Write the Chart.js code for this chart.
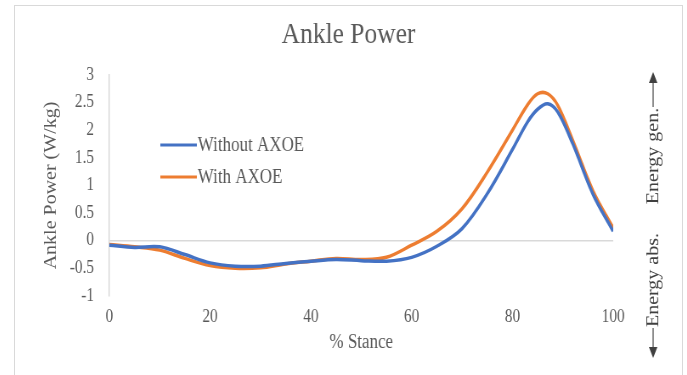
<!DOCTYPE html>
<html>
<head>
<meta charset="utf-8">
<script src="https://cdn.jsdelivr.net/npm/chart.js@4.4.0/dist/chart.umd.min.js"></script>
<style>
  html, body { margin: 0; padding: 0; background: #fff; }
  body { width: 687px; height: 375px; overflow: hidden; position: relative; }
  #frame {
    position: absolute; left: 14px; top: 5px; width: 667px; height: 380px;
    border: 1px solid #d9d9d9; overflow: hidden; background: #fff;
  }
  #squeeze { position: absolute; left: 0; top: 0; transform: scaleX(0.8497); transform-origin: 0 0; }
  canvas { display: block; }
</style>
</head>
<body>
<div id="frame"><div id="squeeze"><canvas id="c" width="785" height="369"></canvas></div></div>
<script>
// % of stance phase
const stance = [0, 5, 10, 15, 20, 25, 30, 35, 40, 45, 50, 55, 60, 65, 70, 75, 80, 83, 85, 87, 89, 92, 96, 100];
// Ankle power, W/kg
const withoutAxoe = [-0.08, -0.12, -0.11, -0.25, -0.40, -0.46, -0.46, -0.41, -0.37, -0.34, -0.36, -0.37, -0.30, -0.10, 0.22, 0.85, 1.65, 2.15, 2.38, 2.48, 2.33, 1.75, 0.84, 0.17];
const withAxoe    = [-0.07, -0.11, -0.17, -0.32, -0.45, -0.50, -0.49, -0.42, -0.37, -0.32, -0.34, -0.30, -0.08, 0.17, 0.58, 1.24, 2.00, 2.46, 2.66, 2.66, 2.45, 1.81, 0.90, 0.23];
const seriesNames = ['Without AXOE', 'With AXOE'];
const seriesColors = ['#4472C4', '#ED7D31'];
const xTicks = [0, 20, 40, 60, 80, 100];
const yTicks = [-1, -0.5, 0, 0.5, 1, 1.5, 2, 2.5, 3];

const SERIF = '"Liberation Serif", "Times New Roman", serif';
const GREY = '#595959';

const toPoints = vals => stance.map((x, i) => ({ x: x, y: vals[i] }));

// legend drawn inside the plot, upper left
const legendInside = {
  id: 'legendInside',
  afterDatasetsDraw(chart) {
    const ctx = chart.ctx;
    ctx.save();
    ctx.font = '20px ' + SERIF;
    ctx.textBaseline = 'middle';
    ctx.textAlign = 'left';
    chart.data.datasets.forEach((ds, i) => {
      const y = 139 + i * 32;
      ctx.strokeStyle = ds.borderColor;
      ctx.lineWidth = 3;
      ctx.beginPath();
      ctx.moveTo(171, y);
      ctx.lineTo(214, y);
      ctx.stroke();
      ctx.fillStyle = GREY;
      ctx.fillText(ds.label, 215, y + 1);
    });
    ctx.restore();
  }
};

// energy generation / absorption labels on the right
const energyLabels = {
  id: 'energyLabels',
  afterDraw(chart) {
    const ctx = chart.ctx;
    const x = 751;
    ctx.save();
    ctx.fillStyle = '#404040';
    ctx.strokeStyle = '#404040';
    ctx.lineWidth = 1.2;
    ctx.font = '20px ' + SERIF;
    ctx.textAlign = 'center';
    ctx.textBaseline = 'middle';
    const vtext = (t, yc) => {
      ctx.save();
      ctx.translate(x + 1, yc);
      ctx.rotate(-Math.PI / 2);
      ctx.fillText(t, 0, 0);
      ctx.restore();
    };
    vtext('Energy gen.', 150);
    vtext('Energy abs.', 274);
    // up arrow
    ctx.beginPath(); ctx.moveTo(x, 101); ctx.lineTo(x, 74); ctx.stroke();
    ctx.beginPath(); ctx.moveTo(x, 66); ctx.lineTo(x - 5, 77); ctx.lineTo(x + 5, 77); ctx.closePath(); ctx.fill();
    // down arrow
    ctx.beginPath(); ctx.moveTo(x, 322); ctx.lineTo(x, 344); ctx.stroke();
    ctx.beginPath(); ctx.moveTo(x, 352); ctx.lineTo(x - 5, 341); ctx.lineTo(x + 5, 341); ctx.closePath(); ctx.fill();
    ctx.restore();
  }
};

const lineStyle = { borderWidth: 3.5, pointRadius: 0, tension: 0.35, fill: false };

new Chart(document.getElementById('c'), {
  type: 'line',
  data: {
    datasets: [
      Object.assign({ label: seriesNames[0], data: toPoints(withoutAxoe), borderColor: seriesColors[0], backgroundColor: seriesColors[0] }, lineStyle),
      Object.assign({ label: seriesNames[1], data: toPoints(withAxoe), borderColor: seriesColors[1], backgroundColor: seriesColors[1] }, lineStyle)
    ]
  },
  options: {
    responsive: false,
    animation: false,
    devicePixelRatio: 1,
    layout: { padding: 0 },
    plugins: {
      legend: { display: false },
      tooltip: { enabled: false },
      title: {
        display: true,
        text: 'Ankle Power',
        color: GREY,
        font: { family: SERIF, size: 30, weight: 'normal' },
        padding: { top: 11, bottom: 22 }
      }
    },
    scales: {
      x: {
        type: 'linear',
        min: 0, max: 100,
        afterBuildTicks: s => { s.ticks = xTicks.map(v => ({ value: v })); },
        afterFit: s => { s.height = 79; },
        grid: { display: false },
        border: { display: false },
        ticks: { color: GREY, font: { family: SERIF, size: 18 }, padding: 2, maxRotation: 0 },
        title: { display: true, text: '% Stance', color: GREY, font: { family: SERIF, size: 20 }, padding: { top: 0, bottom: 20 } }
      },
      y: {
        type: 'linear',
        min: -1, max: 3,
        afterBuildTicks: s => { s.ticks = yTicks.map(v => ({ value: v })); },
        afterFit: s => { s.width = 111; },
        grid: {
          drawTicks: false,
          color: c => (c.tick && c.tick.value === 0) ? '#d9d9d9' : 'rgba(0,0,0,0)',
          lineWidth: 1.5
        },
        border: { display: true, color: '#d9d9d9', width: 1.5 },
        ticks: { color: GREY, font: { family: SERIF, size: 18 }, padding: 18, callback: v => String(v) },
        title: { display: true, text: 'Ankle Power (W/kg)', color: GREY, font: { family: SERIF, size: 20 }, padding: { top: 31, bottom: 0 } }
      },
      // empty right-hand band that holds the energy labels
      side: {
        type: 'linear',
        position: 'right',
        min: -1, max: 3,
        afterFit: s => { s.width = 81; },
        grid: { display: false },
        border: { display: false },
        ticks: { display: false }
      }
    }
  },
  plugins: [legendInside, energyLabels]
});
</script>
</body>
</html>
